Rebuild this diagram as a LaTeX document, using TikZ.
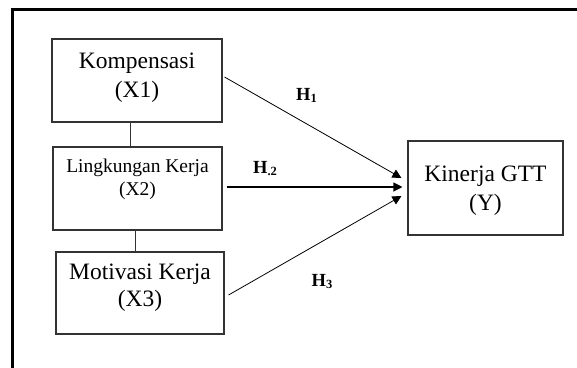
\documentclass[tikz,border=0pt]{standalone}
\usepackage{fontspec}
\setmainfont{Liberation Serif}
\usetikzlibrary{arrows.meta,calc}
\newcommand\hlab[1]{\textbf{H}\raisebox{-2pt}{\fontsize{12.5}{12.5}\selectfont\textbf{#1}}}
\begin{document}
\begin{tikzpicture}[x=1pt,y=-1pt,
  box/.style={draw=black!80,line width=1.1pt,inner sep=0pt},
  big/.style={font=\fontsize{23.5}{23.5}\selectfont,anchor=base,inner sep=0pt},
  mid/.style={font=\fontsize{19.5}{19.5}\selectfont,anchor=base,inner sep=0pt},
  hyp/.style={font=\fontsize{18.5}{18.5}\selectfont,inner sep=0pt},
  link/.style={draw=black!80,line width=1pt},
  arr/.style={draw=black,line width=0.8pt,-{Triangle[length=9pt,width=9pt]}}]
\useasboundingbox (0,0) rectangle (577,367);
\clip (0,0) rectangle (577,367);
% outer frame (right and bottom edges lie outside the picture)
\draw[line width=2.8pt] (12.5,9.5) rectangle (650,450);
% boxes
\node[box,minimum width=170pt,minimum height=83pt] (b1) at (137,80.5) {};
\node[box,minimum width=169pt,minimum height=83pt] (b2) at (137.5,188.5) {};
\node[box,minimum width=168pt,minimum height=82pt] (b3) at (140,293) {};
\node[box,minimum width=155pt,minimum height=94pt] (by) at (485.5,188) {};
% texts
\node[big] (t1a) at (137,68) {Kompensasi};
\node[big] (t1b) at (137,97) {(X1)};
\node[mid] (t2a) at (137.5,172.3) {Lingkungan Kerja};
\node[mid] (t2b) at (137.5,195) {(X2)};
\node[big] (t3a) at (140,279.3) {Motivasi Kerja};
\node[big] (t3b) at (140,306) {(X3)};
\node[big] (tya) at (485.5,181.7) {Kinerja GTT};
\node[big] (tyb) at (485.5,210.5) {(Y)};
% vertical links
\coordinate (c1) at (130,0);
\coordinate (c2) at (135,0);
\draw[link] (b1.south -| c1) -- (b2.north -| c1);
\draw[link] (b2.south -| c2) -- (b3.north -| c2);
% arrows
\coordinate (s1) at ($(b1.east)+(2,-3.5)$);
\coordinate (s2) at ($(b2.east)+(4,-1.5)$);
\coordinate (s3) at ($(b3.east)+(4,2)$);
\coordinate (e1) at ($(by.west)+(-6,-10)$);
\coordinate (e2) at ($(by.west)+(-5,-1)$);
\coordinate (e3) at ($(by.west)+(-6,8)$);
\draw[arr] (s1) -- (e1);
\draw[arr,line width=1.1pt] (s2) -- (e2);
\draw[arr] (s3) -- (e3);
% hypothesis labels
\node[hyp] (h1) at (306.5,95.5) {\hlab{1}};
\node[hyp] (h2) at (265,168.5) {\hlab{.2}};
\node[hyp] (h3) at (322,281.5) {\hlab{3}};
\end{tikzpicture}
\end{document}
